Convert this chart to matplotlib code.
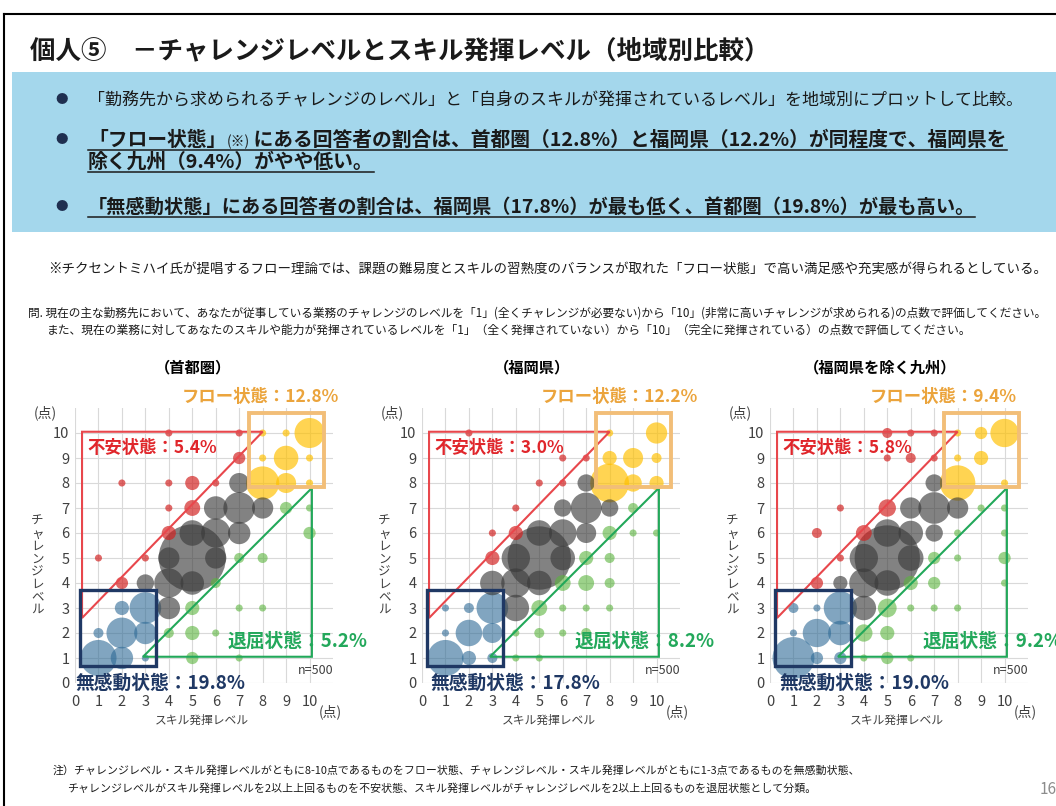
import matplotlib
matplotlib.use('Agg')
import matplotlib.pyplot as plt
from matplotlib.lines import Line2D
from matplotlib.patches import Rectangle, Polygon
from matplotlib.colors import to_rgba

plt.rcParams['font.family'] = ['Noto Sans CJK JP', 'DejaVu Sans']

W, H = 1056, 806

# ---- data ----
regions = ['（首都圏）', '（福岡県）', '（福岡県を除く九州）']
flow_pct = ['12.8%', '12.2%', '9.4%']
anxiety_pct = ['5.4%', '3.0%', '5.8%']
boredom_pct = ['5.2%', '8.2%', '9.2%']
apathy_pct = ['19.8%', '17.8%', '19.0%']
n_total = 500
levels = list(range(11))

# (skill level, challenge level, respondents)
tokyo = [
    (4, 10, 1), (7, 10, 1), (7, 9, 3), (2, 8, 1), (4, 8, 1), (5, 8, 4), (6, 8, 1),
    (4, 7, 1), (5, 7, 5), (4, 6, 4), (1, 5, 1), (3, 5, 1), (2, 4, 3),
    (8, 10, 1), (9, 10, 1), (10, 10, 18), (8, 9, 1), (9, 9, 12), (10, 9, 1),
    (8, 8, 22), (9, 8, 8), (10, 8, 1),
    (7, 8, 8), (6, 7, 11), (7, 7, 20), (8, 7, 9), (5, 6, 13), (6, 6, 17), (7, 6, 10),
    (4, 5, 9), (5, 5, 90), (6, 5, 9), (3, 4, 6), (4, 4, 17), (5, 4, 11), (4, 3, 10),
    (9, 7, 3), (10, 7, 1), (10, 6, 3), (7, 5, 2), (8, 5, 2), (6, 4, 2), (5, 3, 4),
    (7, 3, 1), (8, 3, 1), (4, 2, 2), (5, 2, 4), (6, 2, 1), (5, 1, 3), (7, 1, 1),
    (1, 1, 26), (2, 1, 10), (3, 1, 1), (1, 2, 2), (2, 2, 19), (3, 2, 10), (2, 3, 4), (3, 3, 20),
]
fukuoka = [
    (2, 10, 1), (6, 9, 1), (7, 9, 1), (5, 8, 1), (6, 8, 1), (4, 7, 1), (3, 6, 1),
    (4, 6, 4), (3, 5, 4),
    (8, 10, 1), (10, 10, 9), (8, 9, 4), (9, 9, 8), (10, 9, 2), (8, 8, 30), (9, 8, 6), (10, 8, 4),
    (7, 8, 6), (6, 7, 6), (7, 7, 19), (8, 7, 6), (5, 6, 13), (6, 6, 15), (7, 6, 8),
    (4, 5, 16), (5, 5, 80), (6, 5, 12), (3, 4, 12), (4, 4, 17), (5, 4, 12), (4, 3, 14),
    (9, 7, 2), (8, 6, 4), (9, 6, 1), (10, 6, 1), (7, 5, 4), (8, 5, 2), (6, 4, 5), (7, 4, 5),
    (8, 4, 2), (5, 3, 5), (6, 3, 1), (7, 3, 1), (8, 3, 1), (4, 2, 1), (5, 2, 2), (6, 2, 1),
    (7, 2, 2), (4, 1, 1), (5, 1, 1),
    (1, 1, 26), (2, 1, 4), (3, 1, 2), (1, 2, 1), (2, 2, 14), (3, 2, 8), (1, 3, 1), (2, 3, 2), (3, 3, 20),
]
kyushu = [
    (5, 10, 2), (6, 10, 1), (7, 10, 1), (5, 9, 1), (6, 9, 2), (7, 9, 1), (3, 7, 1),
    (5, 7, 6), (2, 6, 2), (4, 6, 5), (3, 5, 1), (2, 4, 3), (3, 4, 4),
    (8, 10, 1), (9, 10, 3), (10, 10, 16), (8, 9, 1), (9, 9, 4), (8, 8, 25), (10, 8, 1),
    (7, 8, 6), (6, 7, 9), (7, 7, 20), (8, 7, 9), (5, 6, 15), (6, 6, 12), (7, 6, 6),
    (4, 5, 16), (5, 5, 85), (6, 5, 13), (4, 4, 17), (5, 4, 13), (4, 3, 12),
    (9, 7, 1), (10, 7, 1), (8, 6, 1), (10, 6, 1), (7, 5, 3), (8, 5, 1), (10, 5, 3),
    (6, 4, 4), (7, 4, 3), (10, 4, 1), (5, 3, 7), (6, 3, 1), (7, 3, 1), (8, 3, 1),
    (4, 2, 6), (5, 2, 4), (4, 1, 1), (5, 1, 3), (6, 1, 1),
    (1, 1, 35), (2, 1, 3), (3, 1, 3), (1, 2, 1), (2, 2, 16), (3, 2, 12), (1, 3, 2), (2, 3, 1), (3, 3, 22),
]

colors = {'apathy': ('#2E6A96', 0.6), 'flow': ('#FFC000', 0.68), 'anxiety': ('#D2201F', 0.68),
          'boredom': ('#5AB43C', 0.6), 'middle': ('#3A3A3A', 0.63)}


def category(x, y):
    # classification from the footnote
    if x <= 3 and y <= 3:
        return 'apathy'
    if x >= 8 and y >= 8:
        return 'flow'
    if y - x >= 2:
        return 'anxiety'
    if x - y >= 2:
        return 'boredom'
    return 'middle'


fig = plt.figure(figsize=(W / 100, H / 100), dpi=100)
r = fig.canvas.get_renderer()


def run(px, py, pieces, size, width=None, color='#1a1a1a'):
    # draw text pieces one after another on a baseline at pixel (px, py)
    if width:
        tt = run(px, py, pieces, size, color=color)
        total = tt[-1].get_window_extent(r).x1 - tt[0].get_window_extent(r).x0
        for t in tt:
            t.remove()
        size *= width / total
    texts = []
    x = px
    for s, rel, wt in pieces:
        t = fig.text(x / W, 1 - py / H, s, fontsize=size * rel, weight=wt, color=color, va='baseline')
        x = t.get_window_extent(r).x1
        texts.append(t)
    return texts


def underline(texts, py, color='#1a1a1a'):
    x0 = texts[0].get_window_extent(r).x0
    x1 = texts[-1].get_window_extent(r).x1
    y = 1 - (py + 4) / H
    fig.add_artist(Line2D([x0 / W, x1 / W], [y, y], color=color, lw=1.1))


# frame
fig.add_artist(Line2D([4 / W, 1], [1 - 14 / H, 1 - 14 / H], color='black', lw=1.5))
fig.add_artist(Line2D([4 / W, 4 / W], [0, 1 - 14 / H], color='black', lw=1.5))

# title
run(30, 58, [('個人⑤　－チャレンジレベルとスキル発揮レベル（地域別比較）', 1, 'bold')], 18, width=740)

# blue summary box
fig.add_artist(Rectangle((12 / W, 1 - 232 / H), (W - 12) / W, 160 / H, transform=fig.transFigure,
                         facecolor='#A4D7EC', edgecolor='none', zorder=0))
for by in [99, 140, 207]:
    fig.text(62 / W, 1 - by / H, '●', fontsize=9, color='#1F2F50', ha='center', va='center')

run(88, 105, [('「勤務先から求められるチャレンジのレベル」と「自身のスキルが発揮されているレベル」を地域別にプロットして比較。', 1, 'normal')],
    12, width=932)
l1 = run(88, 146, [('「フロー状態」', 1, 'bold'), ('(※)', 0.7, 'normal'),
                   (' にある回答者の割合は、首都圏（12.8%）と福岡県（12.2%）が同程度で、福岡県を', 1, 'bold')],
         12.5, width=922)
underline(l1, 146)
l2 = run(88, 168, [('除く九州（9.4%）がやや低い。', 1, 'bold')], l1[0].get_fontsize())
underline(l2, 168)
l3 = run(88, 213, [('「無感動状態」にある回答者の割合は、福岡県（17.8%）が最も低く、首都圏（19.8%）が最も高い。', 1, 'bold')],
         12.5, width=887)
underline(l3, 213)

# notes
run(48, 273, [('※チクセントミハイ氏が提唱するフロー理論では、課題の難易度とスキルの習熟度のバランスが取れた「フロー状態」で高い満足感や充実感が得られるとしている。', 1, 'normal')],
    10, width=997)
run(28, 317, [('問. 現在の主な勤務先において、あなたが従事している業務のチャレンジのレベルを「1」(全くチャレンジが必要ない)から「10」(非常に高いチャレンジが求められる)の点数で評価してください。', 1, 'normal')],
    8, width=1024)
run(47, 334, [('また、現在の業務に対してあなたのスキルや能力が発揮されているレベルを「1」（全く発揮されていない）から「10」（完全に発揮されている）の点数で評価してください。', 1, 'normal')],
    8, width=926)

# footnote
f1 = run(53, 774, [('注）チャレンジレベル・スキル発揮レベルがともに8-10点であるものをフロー状態、チャレンジレベル・スキル発揮レベルがともに1-3点であるものを無感動状態、', 1, 'normal')],
         7.5, width=802)
run(67, 792, [('チャレンジレベルがスキル発揮レベルを2以上上回るものを不安状態、スキル発揮レベルがチャレンジレベルを2以上上回るものを退屈状態として分類。', 1, 'normal')],
    f1[0].get_fontsize())
fig.text(1040 / W, 1 - 790 / H, '16', fontsize=11, color='#8C8C8C', va='center')

# ---- bubble charts ----
lefts = [75, 422, 770]
title_x = [193, 532, 880]
flow_x = [7.9, 8.4, 7.4]
apathy_x = [0.0, 0.35, 0.4]
for i, pts in enumerate([tokyo, fukuoka, kyushu]):
    fig.text(title_x[i] / W, 1 - 367 / H, regions[i], fontsize=11, weight='bold', ha='center', va='center')
    ax = fig.add_axes([lefts[i] / W, (H - 683) / H, 258 / W, 275 / H])
    ax.set_xlim(0, 11)
    ax.set_ylim(0, 11)
    ax.set_xticks(levels)
    ax.set_yticks(levels)
    ax.grid(color='#D9D9D9', lw=0.8)
    ax.set_axisbelow(True)
    for sp in ax.spines.values():
        sp.set_visible(False)
    ax.tick_params(length=0, labelsize=10.5, labelcolor='#404040')
    ax.tick_params(axis='x', pad=9)
    ax.tick_params(axis='y', pad=4)

    pts = sorted(pts, key=lambda p: -p[2])
    ax.scatter([p[0] for p in pts], [p[1] for p in pts], s=[p[2] * 26 for p in pts],
               c=[to_rgba(*colors[category(p[0], p[1])]) for p in pts], linewidths=0, zorder=2)

    ax.add_patch(Polygon([(0.3, 10.05), (8.0, 10.05), (0.3, 2.6)], closed=True, fill=False,
                         ec='#E8474C', lw=1.5, zorder=3, clip_on=False))
    ax.add_patch(Polygon([(2.9, 1.05), (10.1, 1.05), (10.1, 7.8)], closed=True, fill=False,
                         ec='#22A85A', lw=1.5, zorder=3, clip_on=False))
    ax.add_patch(Rectangle((0.2, 0.68), 3.25, 3.04, fill=False, ec='#1F3864', lw=2.4, zorder=4))
    ax.add_patch(Rectangle((7.4, 7.85), 3.2, 2.95, fill=False, ec='#F2BE78', lw=2.8, zorder=4))

    ax.text(flow_x[i], 11.45, 'フロー状態：' + flow_pct[i], color='#EBA43C', fontsize=12.5,
            weight='bold', ha='center', va='center', zorder=5)
    ax.text(0.55, 9.4, '不安状態：' + anxiety_pct[i], color='#E0262B', fontsize=12.5,
            weight='bold', ha='left', va='center', zorder=5)
    ax.text(6.5, 1.68, '退屈状態：' + boredom_pct[i], color='#23A85B', fontsize=13.5,
            weight='bold', ha='left', va='center', zorder=5, clip_on=False)
    ax.text(apathy_x[i], 0.0, '無感動状態：' + apathy_pct[i], color='#1F3864', fontsize=13.5,
            weight='bold', ha='left', va='center', zorder=5)
    ax.text(9.5, 0.52, 'n=%d' % n_total, color='#404040', fontsize=9, ha='left', va='center')
    ax.text(-1.25, 10.8, '(点)', color='#404040', fontsize=10, ha='center', va='center')
    ax.text(10.9, -1.15, '(点)', color='#404040', fontsize=10, ha='center', va='center')
    ax.text(5.4, -1.48, 'スキル発揮レベル', color='#404040', fontsize=8.5, ha='center', va='center')
    ax.text(-1.6, 4.7, '\n'.join('チャレンジレベル'), color='#404040', fontsize=9,
            ha='center', va='center', linespacing=0.95)

fig.savefig('out.png', dpi=100)
